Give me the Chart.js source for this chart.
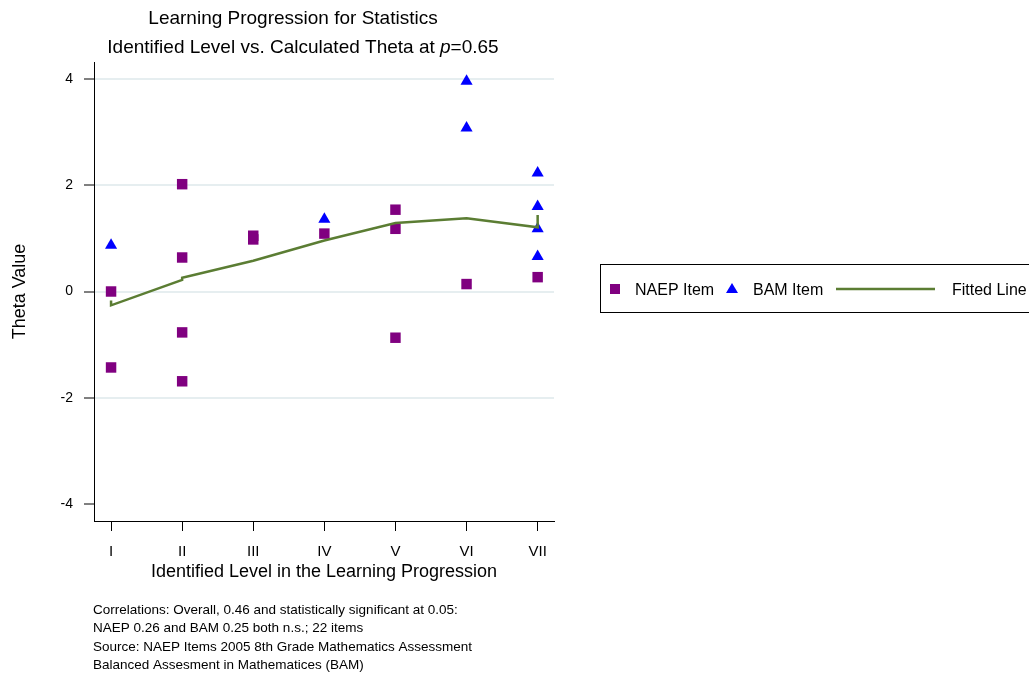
<!DOCTYPE html>
<html>
<head>
<meta charset="utf-8">
<script src="https://cdn.jsdelivr.net/npm/chart.js@4"></script>
<style>
  html, body { margin: 0; padding: 0; background: #fff; }
  #wrap { position: relative; width: 1029px; height: 675px; }
</style>
</head>
<body>
<div id="wrap"><canvas id="chart" width="1029" height="675"></canvas></div>
<script>
// Levels of the learning progression (x axis)
const levelLabels = ['I', 'II', 'III', 'IV', 'V', 'VI', 'VII'];
const thetaTicks = [-4, -2, 0, 2, 4];

// NAEP items: level and theta
const naepLevels = [1, 1, 2, 2, 2, 2, 3, 3, 4, 5, 5, 5, 6, 7];
const naepTheta = [0.00, -1.43, 2.02, 0.64, -0.77, -1.69, 1.05, 0.98, 1.09, 1.54, 1.18, -0.87, 0.14, 0.27];

// BAM items: level and theta
const bamLevels = [1, 4, 6, 6, 7, 7, 7, 7];
const bamTheta = [0.87, 1.36, 3.96, 3.08, 2.23, 1.60, 1.18, 0.66];

// Fitted line points
const fitLevels = [1, 1, 2, 2, 3, 4, 5, 6, 7, 7];
const fitTheta = [-0.17, -0.26, 0.22, 0.26, 0.58, 0.96, 1.29, 1.38, 1.21, 1.44];

const footnotes = [
    'Correlations: Overall, 0.46 and statistically significant at 0.05:',
    'NAEP 0.26 and BAM 0.25 both n.s.; 22 items',
    'Source: NAEP Items 2005 8th Grade Mathematics Assessment',
    'Balanced Assesment in Mathematices (BAM)'
];

const FONT = '"Liberation Sans", Arial, Helvetica, sans-serif';
const PURPLE = '#800080';
const BLUE = '#0000ff';
const GREEN = '#5b7d33';

function toPoints(xs, ys) {
    return xs.map((x, i) => ({ x: x, y: ys[i] }));
}

// Title with italic p, legend box and notes
const decorPlugin = {
    id: 'decor',
    afterDraw(chart) {
        const ctx = chart.ctx;
        ctx.save();
        ctx.fillStyle = '#000';
        ctx.textBaseline = 'alphabetic';

        // title
        ctx.font = '19px ' + FONT;
        ctx.textAlign = 'center';
        ctx.fillText('Learning Progression for Statistics', 293, 24);

        const partA = 'Identified Level vs. Calculated Theta at ';
        const partC = '=0.65';
        ctx.font = '19px ' + FONT;
        const wA = ctx.measureText(partA).width;
        const wC = ctx.measureText(partC).width;
        ctx.font = 'italic 19px ' + FONT;
        const wB = ctx.measureText('p').width;
        let x = 303 - (wA + wB + wC) / 2;
        ctx.textAlign = 'left';
        ctx.font = '19px ' + FONT;
        ctx.fillText(partA, x, 53);
        ctx.font = 'italic 19px ' + FONT;
        ctx.fillText('p', x + wA, 53);
        ctx.font = '19px ' + FONT;
        ctx.fillText(partC, x + wA + wB, 53);

        // legend
        const ds = chart.data.datasets;
        ctx.strokeStyle = '#000';
        ctx.lineWidth = 1;
        ctx.strokeRect(600.5, 264.5, 440, 48);
        const ly = 289;
        ctx.font = '16px ' + FONT;
        ctx.fillStyle = ds[0].backgroundColor;
        ctx.fillRect(610, ly - 5, 10, 10);
        ctx.fillStyle = ds[1].backgroundColor;
        ctx.beginPath();
        ctx.moveTo(732, ly - 6);
        ctx.lineTo(738, ly + 4);
        ctx.lineTo(726, ly + 4);
        ctx.closePath();
        ctx.fill();
        ctx.strokeStyle = ds[2].borderColor;
        ctx.lineWidth = ds[2].borderWidth;
        ctx.beginPath();
        ctx.moveTo(836, ly);
        ctx.lineTo(935, ly);
        ctx.stroke();
        ctx.fillStyle = '#000';
        ctx.fillText(ds[0].label, 635, ly + 6);
        ctx.fillText(ds[1].label, 753, ly + 6);
        ctx.fillText(ds[2].label, 952, ly + 6);

        // notes
        ctx.font = '13.5px ' + FONT;
        const noteY = [614, 632, 651, 669];
        footnotes.forEach((t, i) => ctx.fillText(t, 93, noteY[i]));
        ctx.restore();
    }
};

new Chart(document.getElementById('chart'), {
    type: 'scatter',
    data: {
        datasets: [
            {
                label: 'NAEP Item',
                data: toPoints(naepLevels, naepTheta),
                pointStyle: 'rect',
                pointRadius: 7.4,
                backgroundColor: PURPLE,
                borderColor: PURPLE,
                borderWidth: 0,
                order: 2
            },
            {
                label: 'BAM Item',
                data: toPoints(bamLevels, bamTheta),
                pointStyle: 'triangle',
                pointRadius: 7,
                backgroundColor: BLUE,
                borderColor: BLUE,
                borderWidth: 0,
                order: 1
            },
            {
                label: 'Fitted Line',
                type: 'line',
                data: toPoints(fitLevels, fitTheta),
                showLine: true,
                pointRadius: 0,
                borderColor: GREEN,
                backgroundColor: GREEN,
                borderWidth: 2.5,
                tension: 0,
                fill: false,
                order: 0
            }
        ]
    },
    options: {
        responsive: false,
        animation: false,
        events: [],
        layout: { padding: { left: 0, top: 62, right: 475, bottom: 0 } },
        plugins: {
            legend: { display: false },
            title: { display: false },
            tooltip: { enabled: false }
        },
        scales: {
            x: {
                type: 'linear',
                min: 0.76,
                max: 7.23,
                afterBuildTicks: axis => { axis.ticks = levelLabels.map((l, i) => ({ value: i + 1 })); },
                afterFit: axis => { axis.height = 154; },
                ticks: {
                    callback: v => levelLabels[v - 1],
                    color: '#000',
                    font: { family: FONT, size: 15 },
                    padding: 12,
                    maxRotation: 0
                },
                grid: {
                    drawOnChartArea: false,
                    drawTicks: true,
                    tickLength: 10,
                    tickColor: '#000'
                },
                border: { display: true, color: '#000', width: 1 },
                title: {
                    display: true,
                    text: 'Identified Level in the Learning Progression',
                    color: '#000',
                    font: { family: FONT, size: 18 },
                    padding: { top: 0, bottom: 92 }
                }
            },
            y: {
                type: 'linear',
                min: -4.32,
                max: 4.32,
                afterBuildTicks: axis => { axis.ticks = thetaTicks.map(v => ({ value: v })); },
                afterFit: axis => { axis.width = 94; },
                ticks: {
                    color: '#000',
                    font: { family: FONT, size: 14 },
                    padding: 11
                },
                grid: {
                    color: c => (c.tick && c.tick.value === -4) ? 'rgba(0,0,0,0)' : '#e6eef0',
                    lineWidth: 2,
                    drawTicks: true,
                    tickLength: 10,
                    tickColor: '#000',
                    tickWidth: 1
                },
                border: { display: true, color: '#000', width: 1 },
                title: {
                    display: true,
                    text: 'Theta Value',
                    color: '#000',
                    font: { family: FONT, size: 18 },
                    padding: { top: 9, bottom: 0 }
                }
            }
        }
    },
    plugins: [decorPlugin]
});
</script>
</body>
</html>
